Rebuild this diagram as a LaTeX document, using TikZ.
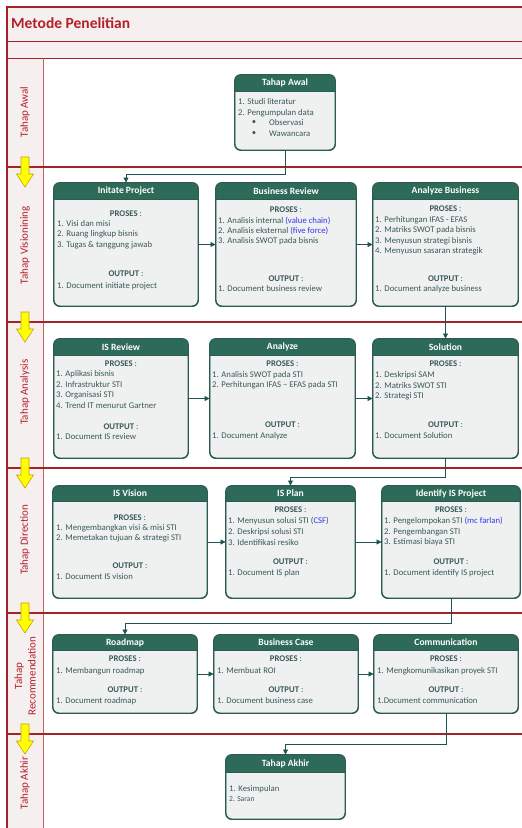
\documentclass[tikz,border=0pt]{standalone}
\usepackage{fontspec}
\setmainfont{Carlito}
\usetikzlibrary{arrows.meta,fit}
\definecolor{frameRed}{HTML}{A52328}
\definecolor{frameRedLight}{HTML}{C46060}
\definecolor{titleRed}{HTML}{B3202A}
\definecolor{laneFill}{HTML}{F6EFEF}
\definecolor{hdrGreen}{HTML}{2D6A57}
\definecolor{bodyGray}{HTML}{EEF1F0}
\definecolor{boxLine}{HTML}{2C5A55}
\definecolor{txtTeal}{HTML}{3A5858}
\definecolor{linkBlue}{HTML}{3535F0}
\definecolor{arrowYel}{HTML}{FFFF00}
\definecolor{arrowEdge}{HTML}{C9A100}
\definecolor{connCol}{HTML}{1E5450}
\newcommand\mkbox[7]{%
  \node[boxbody, fit={(#2,#3) (#4,#5)}] (#1) {};
  \begin{scope}
    \clip[rounded corners=6pt] (#2,#3) rectangle (#4,#5);
    \fill[hdrGreen] (#2,#3) rectangle (#4,#6);
  \end{scope}
  \draw[boxLine, line width=0.6pt] (#2,#6) -- (#4,#6);
  \draw[boxLine, line width=0.9pt, rounded corners=6pt] (#1.north west) rectangle (#1.south east);
  \node[hdrtxt] (#1-title) at ({(#2+#4)/2},{(#3+#6)/2}) {#7};
}
\begin{document}
\begin{tikzpicture}[x=1pt,y=-1pt,
  boxbody/.style={draw=boxLine, line width=0.9pt, fill=bodyGray, rounded corners=6pt, inner sep=0pt},
  hdrtxt/.style={text=white, font=\bfseries\fontsize{9.6}{11}\selectfont, inner sep=0pt},
  bodytxt/.style={text=txtTeal, font=\fontsize{8.7}{10.5}\selectfont, anchor=west, inner sep=0pt},
  smalltxt/.style={text=txtTeal, font=\fontsize{7.6}{9}\selectfont, anchor=west, inner sep=0pt},
  sectxt/.style={text=txtTeal, font=\fontsize{8.7}{10.5}\selectfont, inner sep=0pt},
  lanetxt/.style={text=titleRed, font=\fontsize{11}{13.5}\selectfont, inner sep=0pt, rotate=90, align=center},
  conn/.style={draw=connCol, line width=0.8pt, -{Triangle[length=5pt,width=5pt]}},
  yelarrow/.style={fill=arrowYel, draw=arrowEdge, line width=0.6pt}
]
\useasboundingbox (0,0) rectangle (522,828);
\begin{scope}
\clip (0,0) rectangle (522,828);
% frame and lanes
\fill[laneFill] (7,7) rectangle (530,58);
\fill[laneFill] (7,58) rectangle (43,835);
\draw[frameRed, line width=1pt] (7,41) -- (530,41);
\draw[frameRed, line width=1pt] (7,58) -- (530,58);
\draw[frameRedLight, line width=1pt] (43,58) -- (43,835);
\foreach \d in {167,322,468,613,734}{
  \draw[frameRed, line width=1.4pt] (7,\d) -- (530,\d);
}
\draw[frameRed, line width=1.2pt] (530,7) -- (7,7) -- (7,835);
\foreach \d in {167,322,468,613,734}{
  \draw[yelarrow] (21,\d-10) -- (29,\d-10) -- (29,\d+7) -- (33.5,\d+7) -- (25,\d+20) -- (16.5,\d+7) -- (21,\d+7) -- cycle;
}
\end{scope}

\node[anchor=west, font=\bfseries\fontsize{15.5}{18}\selectfont, text=titleRed, inner sep=0pt] (title) at (11,23) {Metode Penelitian};

\node[lanetxt] (lane1) at (25,112) {Tahap Awal};
\node[lanetxt] (lane2) at (25,245) {Tahap Visionining};
\node[lanetxt] (lane3) at (25,392) {Tahap Analysis};
\node[lanetxt] (lane4) at (25,540) {Tahap Direction};
\node[lanetxt] (lane5) at (25,676) {Tahap\\Recommendation};
\node[lanetxt] (lane6) at (25,783) {Tahap Akhir};

% Tahap Awal
\mkbox{awal}{235}{75}{335}{150}{91}{Tahap Awal}
\node[bodytxt] (aw1) at (238,102) {1. Studi literatur};
\node[bodytxt] (aw2) at (238,113) {2. Pengumpulan data};
\node[sectxt] (aw3b) at (254,123) {\textbullet};
\node[sectxt] (aw4b) at (254,134) {\textbullet};
\node[bodytxt] (aw3) at (269,123) {Observasi};
\node[bodytxt] (aw4) at (269,134) {Wawancara};

% Visioning
\mkbox{ip}{54}{183}{198}{306}{199}{Initate Project}
\node[sectxt] (ipP) at (126,214) {\textbf{PROSES} :};
\node[bodytxt] (ip1) at (57,224) {1. Visi dan misi};
\node[bodytxt] (ip2) at (57,234.5) {2. Ruang lingkup bisnis};
\node[bodytxt] (ip3) at (57,245) {3. Tugas \& tanggung jawab};
\node[sectxt] (ipO) at (126,274) {\textbf{OUTPUT} :};
\node[bodytxt] (ip4) at (57,286) {1. Document initiate project};

\mkbox{br}{216}{183}{356}{306}{199}{Business Review}
\node[sectxt] (brP) at (286,210) {\textbf{PROSES} :};
\node[bodytxt] (br1) at (218,221) {1. Analisis internal \textcolor{linkBlue}{(value chain)}};
\node[bodytxt] (br2) at (218,231) {2. Analisis eksternal \textcolor{linkBlue}{(five force)}};
\node[bodytxt] (br3) at (218,241) {3. Analisis SWOT pada bisnis};
\node[sectxt] (brO) at (286,279) {\textbf{OUTPUT} :};
\node[bodytxt] (br4) at (218,289) {1. Document business review};

\mkbox{ab}{373}{183}{518}{306}{199}{Analyze Business}
\node[sectxt] (abP) at (445.5,209) {\textbf{PROSES} :};
\node[bodytxt] (ab1) at (375,220) {1. Perhitungan IFAS - EFAS};
\node[bodytxt] (ab2) at (375,230.5) {2. Matriks SWOT pada bisnis};
\node[bodytxt] (ab3) at (375,241) {3. Menyusun strategi bisnis};
\node[bodytxt] (ab4) at (375,251.5) {4. Menyusun sasaran strategik};
\node[sectxt] (abO) at (445.5,279) {\textbf{OUTPUT} :};
\node[bodytxt] (ab5) at (375,289) {1. Document analyze business};

% Analysis
\mkbox{isr}{54}{339}{188}{458}{355}{IS Review}
\node[sectxt] (isrP) at (121,364) {\textbf{PROSES} :};
\node[bodytxt] (isr1) at (56,374) {1. Aplikasi bisnis};
\node[bodytxt] (isr2) at (56,384.5) {2. Infrastruktur STI};
\node[bodytxt] (isr3) at (56,395) {3. Organisasi STI};
\node[bodytxt] (isr4) at (56,405.5) {4. Trend IT menurut Gartner};
\node[sectxt] (isrO) at (121,427) {\textbf{OUTPUT} :};
\node[bodytxt] (isr5) at (56,437) {1. Document IS review};

\mkbox{an}{210}{339}{355}{458}{355}{Analyze}
\node[sectxt] (anP) at (282.5,364) {\textbf{PROSES} :};
\node[bodytxt] (an1) at (212,375) {1. Analisis SWOT pada STI};
\node[bodytxt] (an2) at (212,385.5) {2. Perhitungan IFAS -- EFAS pada STI};
\node[sectxt] (anO) at (282.5,425) {\textbf{OUTPUT} :};
\node[bodytxt] (an3) at (212,436) {1. Document Analyze};

\mkbox{sol}{373}{339}{518}{458}{355}{Solution}
\node[sectxt] (solP) at (445.5,364) {\textbf{PROSES} :};
\node[bodytxt] (sol1) at (375,375) {1. Deskripsi SAM};
\node[bodytxt] (sol2) at (375,385.5) {2. Matriks SWOT STI};
\node[bodytxt] (sol3) at (375,396) {2. Strategi STI};
\node[sectxt] (solO) at (445.5,425) {\textbf{OUTPUT} :};
\node[bodytxt] (sol4) at (375,436) {1. Document Solution};

% Direction
\mkbox{isv}{53}{486}{207}{598}{501}{IS Vision}
\node[sectxt] (isvP) at (130,518) {\textbf{PROSES} :};
\node[bodytxt] (isv1) at (56,528) {1. Mengembangkan visi \& misi STI};
\node[bodytxt] (isv2) at (56,538.5) {2. Memetakan tujuan \& strategi STI};
\node[sectxt] (isvO) at (130,566) {\textbf{OUTPUT} :};
\node[bodytxt] (isv3) at (56,577) {1. Document IS vision};

\mkbox{isp}{226}{486}{355}{598}{501}{IS Plan}
\node[sectxt] (ispP) at (290.5,510) {\textbf{PROSES} :};
\node[bodytxt] (isp1) at (228,521.5) {1. Menyusun solusi STI (\textcolor{linkBlue}{CSF})};
\node[bodytxt] (isp2) at (228,532) {2. Deskripsi solusi STI};
\node[bodytxt] (isp3) at (228,542.5) {3. Identifikasi resiko};
\node[sectxt] (ispO) at (290.5,562) {\textbf{OUTPUT} :};
\node[bodytxt] (isp4) at (228,573) {1. Document IS plan};

\mkbox{iip}{382}{486}{520}{598}{501}{Identify IS Project}
\node[sectxt] (iipP) at (451,510) {\textbf{PROSES} :};
\node[bodytxt] (iip1) at (384,521.5) {1. Pengelompokan STI \textcolor{linkBlue}{(mc farlan)}};
\node[bodytxt] (iip2) at (384,532) {2. Pengembangan STI};
\node[bodytxt] (iip3) at (384,542.5) {3. Estimasi biaya STI};
\node[sectxt] (iipO) at (451,562) {\textbf{OUTPUT} :};
\node[bodytxt] (iip4) at (384,573) {1. Document identify IS project};

% Recommendation
\mkbox{rm}{53}{635}{197}{713}{650}{Roadmap}
\node[sectxt] (rmP) at (125,659) {\textbf{PROSES} :};
\node[bodytxt] (rm1) at (56,671) {1. Membangun roadmap};
\node[sectxt] (rmO) at (125,690) {\textbf{OUTPUT} :};
\node[bodytxt] (rm2) at (56,701) {1. Document roadmap};

\mkbox{bc}{214}{635}{358}{713}{650}{Business Case}
\node[sectxt] (bcP) at (286,659) {\textbf{PROSES} :};
\node[bodytxt] (bc1) at (217,671) {1. Membuat ROI};
\node[sectxt] (bcO) at (286,690) {\textbf{OUTPUT} :};
\node[bodytxt] (bc2) at (217,701) {1. Document business case};

\mkbox{com}{374}{635}{518}{713}{650}{Communication}
\node[sectxt] (comP) at (446,659) {\textbf{PROSES} :};
\node[bodytxt] (com1) at (377,671) {1. Mengkomunikasikan proyek STI};
\node[sectxt] (comO) at (446,690) {\textbf{OUTPUT} :};
\node[bodytxt] (com2) at (377,701) {1.Document communication};

% Tahap Akhir
\mkbox{akhir}{226}{755}{345}{819}{772}{Tahap Akhir}
\node[bodytxt] (ak1) at (229,789) {1. Kesimpulan};
\node[smalltxt] (ak2) at (229,799) {2. Saran};

% connectors
\draw[conn] (awal.south) -- ++(0,24) -| (ip.north);
\draw[conn] (ip.east) -- (br.west);
\draw[conn] (br.east) -- (ab.west);
\draw[conn] (ab.south) -- (sol.north);
\draw[conn] (isr.east) -- (an.west);
\draw[conn] (an.east) -- (sol.west);
\draw[conn] (sol.south) -- ++(0,19) -| (isp.north);
\draw[conn] (isv.east) -- (isp.west);
\draw[conn] (isp.east) -- (iip.west);
\draw[conn] (iip.south) -- ++(0,25) -| (rm.north);
\draw[conn] (rm.east) -- (bc.west);
\draw[conn] (bc.east) -- (com.west);
\draw[conn] (com.south) -- ++(0,31) -| (akhir.north);
\end{tikzpicture}
\end{document}
